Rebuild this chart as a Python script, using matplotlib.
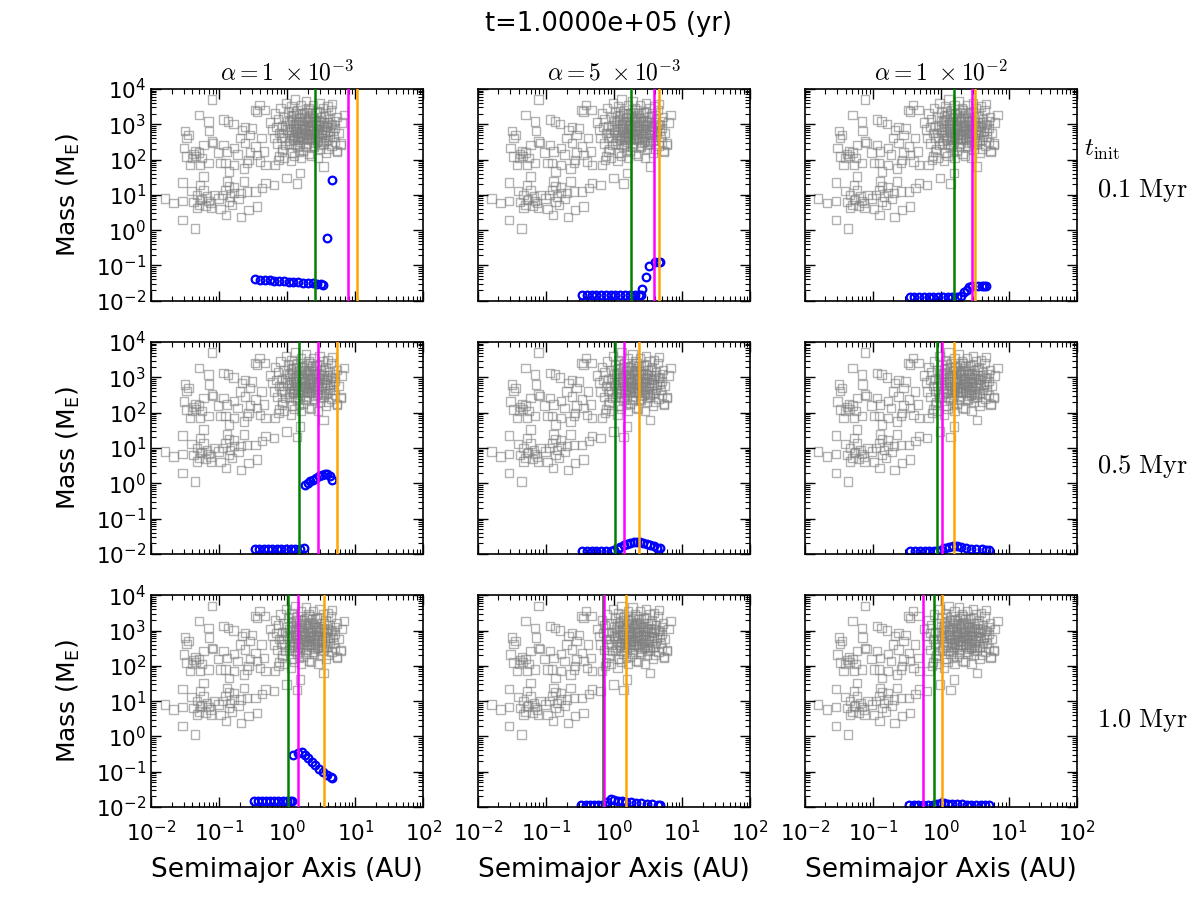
import numpy as np
import matplotlib
matplotlib.use('Agg')
import matplotlib.pyplot as plt
from matplotlib.ticker import LogLocator, NullFormatter

obs_low = [(-1.80, 0.90), (-1.67, 0.76), (-1.54, 0.83), (-1.54, 0.29), (-1.36, 0.05),
           (-1.54, 1.35), (-1.41, 1.11), (-1.28, 1.28), (-1.23, 1.52), (-1.33, 1.00),
           (-1.30, 0.71), (-1.18, 0.95), (-1.13, 0.76), (-1.08, 1.00), (-1.26, 0.88),
           (-1.23, 1.13), (-1.16, 0.83), (-1.33, 0.62), (-1.20, 0.68), (-1.28, 0.85),
           (-1.01, 0.90), (-0.91, 1.14), (-0.89, 1.38), (-0.86, 0.81), (-0.90, 0.43),
           (-0.78, 1.05), (-0.81, 0.71), (-0.78, 1.23), (-0.68, 0.38), (-0.57, 0.57),
           (-0.45, 0.67), (-0.64, 1.38), (-0.59, 1.09), (-0.47, 1.09), (-0.32, 1.33),
           (-0.20, 1.28), (-0.37, 1.20), (-0.95, 1.00), (-0.84, 0.95), (-0.72, 0.88),
           (-1.38, 0.80), (-1.12, 0.62), (-0.98, 0.60), (-0.86, 1.25), (-0.69, 1.05)]

obs_mid = [(-1.50, 2.80), (-1.48, 2.61), (-1.52, 2.32), (-1.30, 3.27), (-1.11, 3.70),
           (-1.16, 3.08), (-1.15, 2.80), (-1.11, 2.51), (-1.38, 2.16), (-1.34, 2.10),
           (-1.30, 2.20), (-1.43, 1.85), (-1.28, 1.85), (-1.16, 1.90), (-1.48, 2.09),
           (-1.23, 2.42), (-1.09, 2.47), (-0.94, 3.13), (-0.87, 3.08), (-0.79, 3.00),
           (-0.94, 2.42), (-0.89, 2.23), (-0.91, 1.90), (-0.98, 1.90), (-0.78, 2.33),
           (-0.73, 2.14), (-0.78, 1.85), (-0.86, 1.66), (-0.64, 1.75), (-0.59, 1.90),
           (-0.57, 1.99), (-0.67, 2.84), (-0.62, 2.93), (-0.55, 2.70), (-0.52, 2.88),
           (-0.62, 2.46), (-0.47, 2.37), (-0.45, 3.36), (-0.48, 3.41), (-0.41, 3.55),
           (-0.33, 3.41), (-0.45, 2.13), (-0.34, 2.23), (-0.40, 1.94), (-0.32, 1.85),
           (-0.18, 1.85), (-0.13, 1.99), (-0.08, 2.23), (-0.03, 2.42), (-0.01, 1.47),
           (0.14, 1.32), (0.19, 1.61), (-1.35, 2.25), (-1.40, 2.05), (-1.25, 2.05),
           (-1.45, 2.70), (-1.02, 2.20), (-0.70, 2.60), (-0.55, 2.20), (-0.38, 2.60)]

obs_hot = [(-0.25, 3.05), (-0.22, 2.85), (-0.20, 2.60), (-0.18, 3.30), (-0.15, 2.45),
           (-0.14, 3.15), (-0.12, 2.75), (-0.10, 3.45), (-0.08, 2.95), (-0.07, 2.30),
           (-0.05, 3.20), (-0.04, 2.60), (-0.02, 3.60), (0.00, 2.85), (0.01, 3.35),
           (0.02, 2.45), (0.03, 3.05), (0.05, 2.70), (0.06, 3.50), (0.07, 2.20),
           (0.08, 2.95), (0.09, 3.25), (0.10, 2.55), (0.11, 3.70), (0.12, 2.80),
           (0.13, 3.10), (0.14, 2.35), (0.15, 3.40), (0.16, 2.65), (0.17, 2.95),
           (0.18, 3.20), (0.19, 2.50), (0.20, 3.55), (0.21, 2.75), (0.22, 3.00),
           (0.23, 2.25), (0.24, 3.30), (0.25, 2.60), (0.26, 2.90), (0.27, 3.65),
           (0.28, 2.45), (0.29, 3.15), (0.30, 2.70), (0.31, 3.45), (0.32, 2.15),
           (0.33, 2.95), (0.34, 3.25), (0.35, 2.55), (0.36, 3.05), (0.37, 2.80),
           (0.38, 3.55), (0.39, 2.35), (0.40, 3.10), (0.41, 2.65), (0.42, 2.90),
           (0.43, 3.35), (0.44, 2.50), (0.45, 3.00), (0.46, 2.75), (0.47, 3.60),
           (0.48, 2.30), (0.49, 3.20), (0.50, 2.60), (0.51, 2.85), (0.52, 3.45),
           (0.53, 2.45), (0.54, 3.05), (0.55, 2.70), (0.56, 3.30), (0.57, 2.20),
           (0.58, 2.95), (0.59, 3.50), (0.60, 2.55), (0.62, 3.15), (0.63, 2.80),
           (0.64, 3.40), (0.65, 2.40), (0.66, 3.00), (0.68, 2.65), (0.70, 2.90),
           (0.72, 3.20), (0.73, 2.25), (0.75, 2.75), (0.78, 2.45), (0.80, 3.05),
           (0.83, 3.27), (0.66, 3.58), (0.53, 1.80), (0.45, 2.05), (0.35, 2.10),
           (0.20, 2.05), (0.10, 2.10), (-0.05, 2.05), (-0.12, 2.10), (0.05, 1.95),
           (0.60, 2.30), (0.70, 2.50), (0.05, 2.85), (0.15, 2.75), (0.25, 2.85),
           (0.35, 2.75), (0.45, 2.85), (0.12, 3.00), (0.22, 3.10), (0.32, 2.60),
           (0.42, 3.10), (0.28, 3.35), (0.18, 2.40), (0.38, 2.40), (0.08, 2.60),
           (0.48, 2.95), (0.30, 2.95), (0.20, 2.85), (0.40, 2.85), (0.33, 3.40),
           (0.13, 3.30), (0.23, 2.55), (0.73, 2.22), (0.78, 2.41), (0.53, 2.51)]

obs_core = [(0.02, 2.78), (0.07, 3.12), (0.11, 2.42), (0.16, 3.05), (0.21, 2.62),
            (0.26, 3.18), (0.31, 2.82), (0.36, 3.32), (0.41, 2.48), (0.46, 3.08),
            (0.51, 2.72), (0.56, 2.92), (0.04, 2.52), (0.09, 3.38), (0.14, 2.88),
            (0.19, 2.68), (0.24, 2.98), (0.29, 2.58), (0.34, 2.88), (0.39, 3.18),
            (0.44, 2.68), (0.49, 2.42), (0.54, 3.22), (0.59, 2.78), (0.64, 2.98),
            (-0.03, 2.92), (-0.09, 2.62), (-0.16, 2.92), (0.00, 3.10), (0.27, 2.35),
            (0.37, 2.60), (0.17, 2.22), (0.47, 3.35), (0.57, 2.55), (0.67, 2.82),
            (0.10, 2.68), (0.20, 3.28), (0.30, 3.08), (0.40, 2.72), (0.50, 3.05),
            (0.60, 3.05), (0.25, 2.72), (0.35, 2.95), (0.15, 2.55), (0.45, 2.55),
            (0.05, 3.22), (0.55, 2.85), (0.32, 3.20), (0.22, 2.90), (0.42, 2.98),
            (-0.06, 2.75), (0.62, 2.65), (0.70, 3.10), (0.12, 2.88), (0.28, 2.70)]

# simulated planets per panel (log10 a, log10 M)
sim_a_00 = [-0.47, -0.40, -0.33, -0.26, -0.19, -0.12, -0.05, 0.02, 0.09, 0.16, 0.23, 0.30, 0.37, 0.44, 0.50, 0.53, 0.58, 0.65]
sim_m_00 = [-1.39, -1.40, -1.41, -1.42, -1.43, -1.44, -1.45, -1.46, -1.47, -1.48, -1.49, -1.50, -1.51, -1.53, -1.54, -1.55, -0.22, 1.42]
sim_a_01 = [-0.47, -0.40, -0.33, -0.26, -0.19, -0.12, -0.05, 0.02, 0.09, 0.16, 0.23, 0.30, 0.36, 0.39, 0.41, 0.47, 0.52, 0.60, 0.66, 0.68]
sim_m_01 = [-1.83, -1.83, -1.83, -1.83, -1.83, -1.83, -1.83, -1.83, -1.83, -1.83, -1.83, -1.83, -1.83, -1.83, -1.66, -1.33, -1.02, -0.90, -0.89, -0.90]
sim_a_02 = [-0.46, -0.39, -0.32, -0.25, -0.18, -0.11, -0.04, 0.03, 0.10, 0.17, 0.24, 0.30, 0.34, 0.38, 0.42, 0.46, 0.55, 0.60, 0.64, 0.67]
sim_m_02 = [-1.90, -1.90, -1.90, -1.90, -1.90, -1.90, -1.90, -1.90, -1.89, -1.89, -1.88, -1.86, -1.76, -1.70, -1.62, -1.58, -1.57, -1.57, -1.58, -1.57]
sim_a_10 = [-0.47, -0.41, -0.35, -0.28, -0.22, -0.15, -0.09, -0.02, 0.05, 0.11, 0.18, 0.24,
            0.26, 0.30, 0.34, 0.38, 0.42, 0.47, 0.51, 0.55, 0.58, 0.62, 0.66]
sim_m_10 = [-1.85, -1.85, -1.85, -1.85, -1.85, -1.85, -1.85, -1.85, -1.85, -1.85, -1.85, -1.84,
            -0.04, 0.00, 0.06, 0.10, 0.14, 0.20, 0.24, 0.26, 0.27, 0.22, 0.10]
sim_a_11 = [-0.47, -0.40, -0.33, -0.26, -0.19, -0.12, -0.05, 0.00, 0.05, 0.09, 0.14, 0.19, 0.24,
            0.29, 0.33, 0.38, 0.43, 0.48, 0.53, 0.58, 0.63, 0.67]
sim_m_11 = [-1.92, -1.92, -1.92, -1.92, -1.92, -1.92, -1.91, -1.90, -1.85, -1.80, -1.76, -1.72, -1.69,
            -1.66, -1.65, -1.67, -1.70, -1.73, -1.76, -1.79, -1.82, -1.84]
sim_a_12 = [-0.45, -0.38, -0.31, -0.24, -0.17, -0.10, -0.05, 0.00, 0.06, 0.12, 0.18, 0.24, 0.30,
            0.37, 0.44, 0.52, 0.60, 0.67, 0.70]
sim_m_12 = [-1.93, -1.93, -1.93, -1.93, -1.93, -1.93, -1.92, -1.88, -1.84, -1.80, -1.77, -1.79, -1.81,
            -1.83, -1.85, -1.86, -1.87, -1.88, -1.88]
sim_a_20 = [-0.49, -0.43, -0.37, -0.31, -0.25, -0.19, -0.13, -0.07, -0.01, 0.04, 0.07,
            0.08, 0.15, 0.21, 0.26, 0.31, 0.36, 0.41, 0.46, 0.52, 0.58, 0.64, 0.66]
sim_m_20 = [-1.84, -1.84, -1.84, -1.84, -1.84, -1.84, -1.84, -1.84, -1.84, -1.84, -1.84,
            -0.54, -0.48, -0.45, -0.52, -0.62, -0.72, -0.82, -0.92, -1.02, -1.10, -1.16, -1.18]
sim_a_21 = [-0.48, -0.42, -0.36, -0.30, -0.24, -0.18, -0.14, -0.10, -0.05, 0.00, 0.06, 0.12,
            0.18, 0.25, 0.32, 0.40, 0.48, 0.56, 0.64, 0.68]
sim_m_21 = [-1.95, -1.95, -1.95, -1.95, -1.95, -1.95, -1.94, -1.85, -1.78, -1.80, -1.82, -1.84,
            -1.85, -1.87, -1.88, -1.89, -1.90, -1.91, -1.93, -1.94]
sim_a_22 = [-0.47, -0.40, -0.33, -0.26, -0.19, -0.12, -0.05, 0.00, 0.05, 0.10, 0.17, 0.24,
            0.31, 0.38, 0.45, 0.52, 0.59, 0.65, 0.70]
sim_m_22 = [-1.95, -1.95, -1.95, -1.95, -1.94, -1.94, -1.92, -1.88, -1.89, -1.90, -1.91, -1.92,
            -1.92, -1.93, -1.93, -1.93, -1.94, -1.94, -1.94]

sim_a = [[sim_a_00, sim_a_01, sim_a_02], [sim_a_10, sim_a_11, sim_a_12], [sim_a_20, sim_a_21, sim_a_22]]
sim_m = [[sim_m_00, sim_m_01, sim_m_02], [sim_m_10, sim_m_11, sim_m_12], [sim_m_20, sim_m_21, sim_m_22]]

# vertical markers (AU): green, magenta, orange
line_green = [[2.55, 1.78, 1.55], [1.50, 1.02, 0.89], [1.03, 0.69, 0.78]]
line_magenta = [[7.7, 3.8, 2.9], [2.8, 1.38, 1.05], [1.41, 0.72, 0.54]]
line_orange = [[10.7, 4.6, 3.2], [5.3, 2.3, 1.55], [3.5, 1.5, 1.05]]

alpha_titles = [r'$\alpha = 1\ \times 10^{-3}$', r'$\alpha = 5\ \times 10^{-3}$', r'$\alpha = 1\ \times 10^{-2}$']
tinit_labels = [r'$\mathrm{0.1\ Myr}$', r'$\mathrm{0.5\ Myr}$', r'$\mathrm{1.0\ Myr}$']

obs = obs_low + obs_mid + obs_hot + obs_core
obs_a = 10 ** np.array([p[0] for p in obs])
obs_m = 10 ** np.array([p[1] for p in obs])

fig, axes = plt.subplots(3, 3, figsize=(12, 8.98), dpi=100, sharex=True, sharey=True)
fig.subplots_adjust(left=0.126, right=0.8975, top=0.901, bottom=0.1013, wspace=0.2, hspace=0.195)

for i in range(3):
    for j in range(3):
        ax = axes[i, j]
        ax.scatter(obs_a, obs_m, s=36, marker='s', facecolors='none', edgecolors='gray',
                   linewidths=1.0, alpha=0.6, zorder=1)
        ax.plot(10 ** np.array(sim_a[i][j]), 10 ** np.array(sim_m[i][j]), 'o', ls='none',
                mfc='none', mec='blue', mew=1.6, ms=5.5, zorder=2)
        ax.axvline(line_green[i][j], color='green', lw=1.8, zorder=3)
        ax.axvline(line_magenta[i][j], color='magenta', lw=1.8, zorder=3)
        ax.axvline(line_orange[i][j], color='orange', lw=1.8, zorder=3)
        ax.set_xscale('log')
        ax.set_yscale('log')
        ax.set_xlim(1e-2, 1e2)
        ax.set_ylim(1e-2, 1e4)
        for axis in (ax.xaxis, ax.yaxis):
            axis.set_major_locator(LogLocator(base=10, numticks=20))
            axis.set_minor_locator(LogLocator(base=10, subs=np.arange(2, 10), numticks=100))
            axis.set_minor_formatter(NullFormatter())
        ax.tick_params(which='both', direction='in', top=True, right=True, labelsize=15.5)
        ax.tick_params(axis='x', which='both', pad=9)
        ax.tick_params(which='major', length=7, width=1)
        ax.tick_params(which='minor', length=3.5, width=0.8)
        for s in ax.spines.values():
            s.set_linewidth(1.2)
        if j == 0:
            ax.set_ylabel(r'Mass (M$_\mathrm{E}$)', fontsize=18, labelpad=10)
        if i == 2:
            ax.set_xlabel('Semimajor Axis (AU)', fontsize=19, labelpad=9)
        if i == 0:
            ax.set_title(alpha_titles[j], fontsize=17, math_fontfamily='cm', pad=6)

fig.suptitle('t=1.0000e+05 (yr)', fontsize=18.5, x=0.507, y=0.988)
fig.text(0.918, 0.833, r'$t_\mathrm{init}$', fontsize=18, math_fontfamily='cm', ha='center', va='center')
tinit_y = [0.788, 0.48, 0.198]
for lab, yy in zip(tinit_labels, tinit_y):
    fig.text(0.952, yy, lab, fontsize=19, math_fontfamily='cm', ha='center', va='center')

fig.savefig('out.png', dpi=100)
